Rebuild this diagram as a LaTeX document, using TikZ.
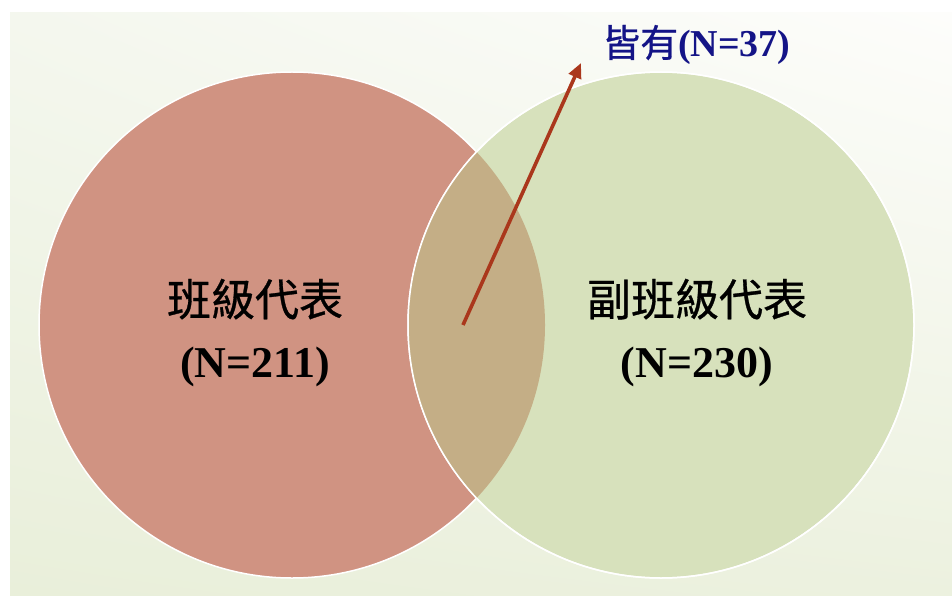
\documentclass[tikz,border=0pt]{standalone}
\usepackage{fontspec}
\setmainfont{Liberation Serif}
\newfontfamily\cjk[FakeBold=0.7]{Noto Sans CJK TC}
\usepackage{tikz}
\usetikzlibrary{arrows.meta, positioning, shadings}
\definecolor{bgGreen}{RGB}{233,239,218}
\definecolor{bgPale}{RGB}{244,247,238}
\definecolor{bgLight}{RGB}{253,253,251}
\definecolor{bgMid}{RGB}{236,241,223}
\definecolor{setRed}{RGB}{208,147,130}
\definecolor{setGreen}{RGB}{215,225,188}
\definecolor{setBoth}{RGB}{196,174,134}
\definecolor{arrowRed}{RGB}{170,55,28}
\definecolor{labelNavy}{RGB}{20,20,135}
\tikzstyle{setcircle} = [
    circle,
    minimum size=506pt,
    inner sep=0pt,
    draw=white,
    line width=1.5pt
]
\tikzstyle{setname} = [
    text centered,
    align=center,
    font=\fontsize{44}{62}\selectfont
]
\tikzstyle{countlabel} = [
    anchor=west,
    inner sep=0pt,
    text=labelNavy,
    font=\fontsize{38}{40}\selectfont
]
\tikzstyle{arrow} = [line width=3.6pt, arrowRed, -{Triangle[length=15pt, width=13pt]}]

\begin{document}
\begin{tikzpicture}[x=1pt, y=-1pt]

\useasboundingbox (0,0) rectangle (952,596);
\shade[upper left=bgPale, upper right=bgLight, lower left=bgGreen, lower right=bgMid]
    (10,13) rectangle (952,596);

% Nodes
\node (classrep) [setcircle, fill=setRed] at (292,325) {};
\node (vicerep) [setcircle, fill=setGreen] at (661,325) {};
\begin{scope}
    \clip (classrep.center) circle [radius=253pt];
    \fill[setBoth] (vicerep.center) circle [radius=253pt];
\end{scope}
\draw[white, line width=1.5pt] (vicerep.center) circle [radius=253pt];

\node (classtext) [setname] at (255,333) {{\cjk 班級代表}\\ \textbf{(N=211)}};
\node (vicetext) [setname] at (697,333) {{\cjk 副班級代表}\\ \textbf{(N=230)}};
\node (bothtext) [countlabel] at (602,45) {{\cjk 皆有}\textbf{(N=37)}};

\coordinate (both) at (463,325);
\coordinate (bothtip) at (581,63);

% Arrows
\draw [arrow] (both) -- (bothtip);

\end{tikzpicture}
\end{document}
